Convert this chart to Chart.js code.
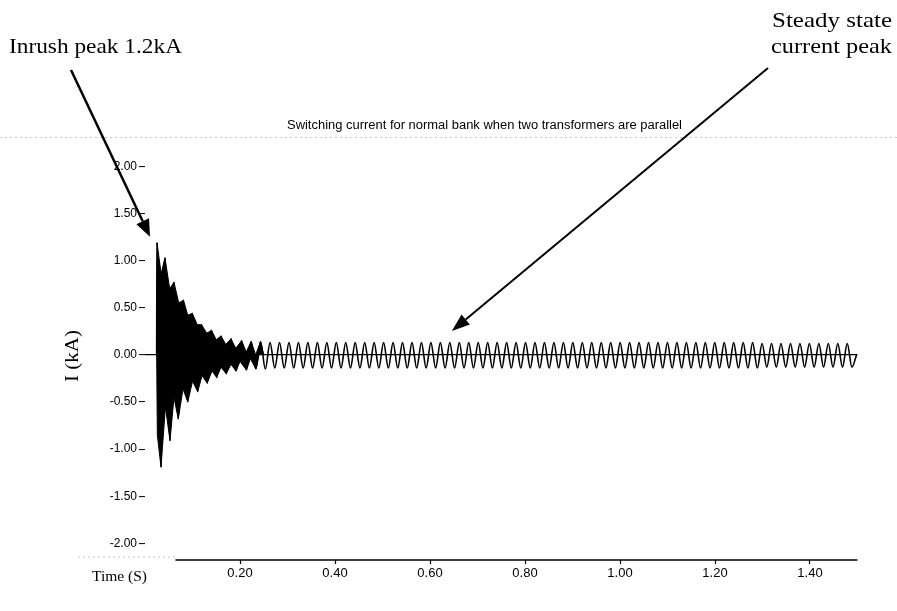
<!DOCTYPE html>
<html>
<head>
<meta charset="utf-8">
<script src="https://cdn.jsdelivr.net/npm/chart.js@4.4.1/dist/chart.umd.min.js"></script>
<style>
  html, body { margin: 0; padding: 0; background: #fff; }
  #chart { display: block; }
</style>
</head>
<body>
<canvas id="chart" width="897" height="611"></canvas>
<script>
// axis ticks
const xTicks = [0.2, 0.4, 0.6, 0.8, 1.0, 1.2, 1.4];
const yTicks = [-2, -1.5, -1, -0.5, 0, 0.5, 1, 1.5, 2];

// waveform: time (s) of each half-cycle extreme and the current (kA) there
const time = [
  0.0245, 0.0253, 0.0337, 0.042, 0.0526, 0.061, 0.070, 0.081, 0.090, 0.0996,
  0.111, 0.119, 0.131, 0.140, 0.151, 0.160, 0.171, 0.181, 0.1915,
  0.2035, 0.2135, 0.2234, 0.2334, 0.2433, 0.2533, 0.2633, 0.2732, 0.2832, 0.2931,
  0.3031, 0.3131, 0.3230, 0.3330, 0.3429, 0.3529, 0.3629, 0.3728, 0.3828, 0.3927,
  0.4027, 0.4127, 0.4226, 0.4326, 0.4425, 0.4525, 0.4625, 0.4724, 0.4824, 0.4923,
  0.5023, 0.5123, 0.5222, 0.5322, 0.5421, 0.5521, 0.5621, 0.5720, 0.5820, 0.5919,
  0.6019, 0.6119, 0.6218, 0.6318, 0.6417, 0.6517, 0.6617, 0.6716, 0.6816, 0.6915,
  0.7015, 0.7115, 0.7214, 0.7314, 0.7413, 0.7513, 0.7613, 0.7712, 0.7812, 0.7911,
  0.8011, 0.8111, 0.8210, 0.8310, 0.8409, 0.8509, 0.8609, 0.8708, 0.8808, 0.8907,
  0.9007, 0.9107, 0.9206, 0.9306, 0.9405, 0.9505, 0.9605, 0.9704, 0.9804, 0.9903,
  1.0003, 1.0103, 1.0202, 1.0302, 1.0401, 1.0501, 1.0601, 1.0700, 1.0800, 1.0899,
  1.0999, 1.1099, 1.1198, 1.1298, 1.1397, 1.1497, 1.1597, 1.1696, 1.1796, 1.1895,
  1.1995, 1.2095, 1.2194, 1.2294, 1.2393, 1.2493, 1.2593, 1.2692, 1.2792, 1.2891,
  1.2991, 1.3091, 1.3190, 1.3290, 1.3389, 1.3489, 1.3589, 1.3688, 1.3788, 1.3887,
  1.3987, 1.4087, 1.4186, 1.4286, 1.4385, 1.4485, 1.4585, 1.4684, 1.4784, 1.4883,
  1.498
];
const current = [
  0, 1.19, -1.19, 1.03, -0.91, 0.77, -0.68, 0.58, -0.50, 0.44,
  -0.39, 0.32, -0.30, 0.26, -0.24, 0.20, -0.20, 0.17, -0.17,
  0.15, -0.16, 0.14, -0.15, 0.14, -0.15, 0.13, -0.14, 0.13, -0.14,
  0.13, -0.14, 0.13, -0.14, 0.13, -0.14, 0.13, -0.14, 0.13, -0.14,
  0.13, -0.14, 0.13, -0.14, 0.13, -0.14, 0.13, -0.14, 0.13, -0.14,
  0.13, -0.14, 0.13, -0.14, 0.13, -0.14, 0.13, -0.14, 0.13, -0.14,
  0.13, -0.14, 0.13, -0.14, 0.13, -0.14, 0.13, -0.14, 0.13, -0.14,
  0.13, -0.14, 0.13, -0.14, 0.13, -0.14, 0.13, -0.14, 0.13, -0.14,
  0.13, -0.14, 0.13, -0.14, 0.13, -0.14, 0.13, -0.14, 0.13, -0.14,
  0.13, -0.14, 0.13, -0.14, 0.13, -0.14, 0.13, -0.14, 0.13, -0.14,
  0.13, -0.14, 0.13, -0.14, 0.13, -0.14, 0.13, -0.14, 0.13, -0.14,
  0.13, -0.14, 0.13, -0.14, 0.13, -0.14, 0.13, -0.14, 0.13, -0.14,
  0.13, -0.14, 0.13, -0.14, 0.13, -0.14, 0.13, -0.14, 0.13, -0.14,
  0.12, -0.13, 0.12, -0.13, 0.12, -0.13, 0.12, -0.13, 0.12, -0.13,
  0.12, -0.13, 0.12, -0.13, 0.12, -0.13, 0.12, -0.13, 0.12, -0.13,
  0
];

// inrush burst: outer edges of the dark (high frequency) band
const upperTime = [0.0245, 0.0253, 0.034, 0.042, 0.052, 0.061, 0.071, 0.081, 0.090, 0.0996,
  0.110, 0.119, 0.130, 0.140, 0.150, 0.160, 0.170, 0.181, 0.191, 0.2035,
  0.213, 0.2234, 0.233, 0.2433, 0.25];
const upperI = [0, 1.19, 0.86, 1.03, 0.70, 0.77, 0.55, 0.58, 0.42, 0.44,
  0.32, 0.32, 0.23, 0.26, 0.16, 0.20, 0.11, 0.17, 0.07, 0.15,
  0.03, 0.14, 0.0, 0.14, 0];
const lowerTime = [0.0245, 0.026, 0.0337, 0.043, 0.0526, 0.061, 0.070, 0.080, 0.090, 0.100,
  0.111, 0.120, 0.131, 0.141, 0.151, 0.160, 0.171, 0.181, 0.1915, 0.2,
  0.2135, 0.222, 0.2334, 0.24];
const lowerI = [0, -0.85, -1.19, -0.55, -0.91, -0.45, -0.68, -0.36, -0.50, -0.28,
  -0.39, -0.22, -0.30, -0.17, -0.24, -0.13, -0.20, -0.10, -0.17, -0.07,
  -0.16, -0.04, -0.15, 0];

const chartTitle = "Switching current for normal bank when two transformers are parallel";

const toXY = (xs, ys) => xs.map((x, i) => ({ x: x, y: ys[i] }));

// draw text squeezed/stretched to a given width
function fitText(ctx, text, left, baseline, width) {
  const w = ctx.measureText(text).width;
  ctx.save();
  ctx.translate(left, baseline);
  ctx.scale(width / w, 1);
  ctx.textAlign = 'left';
  ctx.textBaseline = 'alphabetic';
  ctx.fillText(text, 0, 0);
  ctx.restore();
}

function arrow(ctx, x1, y1, x2, y2, headLen, headW, lw) {
  const a = Math.atan2(y2 - y1, x2 - x1);
  const bx = x2 - headLen * Math.cos(a);
  const by = y2 - headLen * Math.sin(a);
  ctx.lineWidth = lw;
  ctx.beginPath();
  ctx.moveTo(x1, y1);
  ctx.lineTo(bx, by);
  ctx.stroke();
  ctx.beginPath();
  ctx.moveTo(x2, y2);
  ctx.lineTo(bx + headW / 2 * Math.sin(a), by - headW / 2 * Math.cos(a));
  ctx.lineTo(bx - headW / 2 * Math.sin(a), by + headW / 2 * Math.cos(a));
  ctx.closePath();
  ctx.fill();
}

const extras = {
  id: 'extras',
  afterDraw(chart) {
    const ctx = chart.ctx;
    const xs = chart.scales.x, ys = chart.scales.y;
    const area = chart.chartArea;
    ctx.save();
    ctx.fillStyle = '#000';
    ctx.strokeStyle = '#000';

    // faint dotted frame lines from the scan
    ctx.setLineDash([2, 3]);
    ctx.strokeStyle = '#c8c8c8';
    ctx.lineWidth = 1;
    ctx.beginPath();
    ctx.moveTo(0, area.top + 0.5);
    ctx.lineTo(897, area.top + 0.5);
    ctx.moveTo(78, area.bottom - 3);
    ctx.lineTo(xs.getPixelForValue(0.064), area.bottom - 3);
    ctx.stroke();
    ctx.setLineDash([]);

    // x axis line
    ctx.strokeStyle = '#000';
    ctx.lineWidth = 1.5;
    ctx.beginPath();
    ctx.moveTo(xs.getPixelForValue(0.064), area.bottom);
    ctx.lineTo(area.right, area.bottom);
    ctx.stroke();

    // title
    ctx.font = '12px "Liberation Sans", Arial, sans-serif';
    fitText(ctx, chartTitle, 287, 129, 395);

    // annotations
    ctx.font = '22px "Liberation Serif", "Times New Roman", serif';
    fitText(ctx, 'Inrush peak 1.2kA', 9, 53, 173);
    fitText(ctx, 'Steady state', 772, 27, 120);
    fitText(ctx, 'current peak', 771, 53, 121);

    arrow(ctx, 71, 70, xs.getPixelForValue(0.0105), ys.getPixelForValue(1.253), 17, 14, 2.5);
    arrow(ctx, 768, 68, xs.getPixelForValue(0.646), ys.getPixelForValue(0.253), 18, 13, 2);

    // axis names
    ctx.font = '15px "Liberation Serif", "Times New Roman", serif';
    fitText(ctx, 'Time (S)', 92, 581, 55);

    ctx.save();
    ctx.translate(72, 356);
    ctx.rotate(-Math.PI / 2);
    ctx.font = '19px "Liberation Serif", "Times New Roman", serif';
    fitText(ctx, 'I (kA)', -26, 6, 52);
    ctx.restore();

    ctx.restore();
  }
};

new Chart(document.getElementById('chart'), {
  type: 'line',
  data: {
    datasets: [
      {
        data: toXY(time, current),
        borderColor: '#000',
        borderWidth: 1.6,
        pointRadius: 0,
        cubicInterpolationMode: 'monotone',
        fill: false
      },
      {
        data: toXY(upperTime, upperI),
        borderColor: '#000',
        backgroundColor: '#000',
        borderWidth: 1,
        pointRadius: 0,
        tension: 0,
        fill: 'origin'
      },
      {
        data: toXY(lowerTime, lowerI),
        borderColor: '#000',
        backgroundColor: '#000',
        borderWidth: 1,
        pointRadius: 0,
        tension: 0,
        fill: 'origin'
      }
    ]
  },
  options: {
    responsive: false,
    animation: false,
    events: [],
    layout: { padding: { left: 0, top: 137, right: 39.5, bottom: 0 } },
    plugins: {
      legend: { display: false },
      tooltip: { enabled: false },
      title: { display: false }
    },
    scales: {
      x: {
        type: 'linear',
        min: 0,
        max: 1.5,
        afterBuildTicks: s => { s.ticks = xTicks.map(v => ({ value: v })); },
        afterFit: s => { s.height = 51; },
        border: { display: false },
        grid: { drawOnChartArea: false, drawTicks: true, tickLength: 4, tickColor: '#000', tickWidth: 1.2 },
        ticks: {
          color: '#000',
          padding: 2,
          maxRotation: 0,
          font: { family: '"Liberation Sans", Arial, sans-serif', size: 13 },
          callback: v => v.toFixed(2)
        }
      },
      y: {
        min: -2.175,
        max: 2.31,
        afterBuildTicks: s => { s.ticks = yTicks.map(v => ({ value: v })); },
        afterFit: s => { s.width = 145; },
        border: { display: false },
        grid: {
          color: c => (c.tick && c.tick.value === 0 ? '#000' : 'rgba(0,0,0,0)'),
          lineWidth: 1.2,
          drawTicks: true,
          tickLength: 6,
          tickColor: '#000',
          tickWidth: 1
        },
        ticks: {
          color: '#000',
          padding: 2,
          font: { family: '"Liberation Sans", Arial, sans-serif', size: 12 },
          callback: v => v.toFixed(2)
        }
      }
    }
  },
  plugins: [extras]
});
</script>
</body>
</html>
